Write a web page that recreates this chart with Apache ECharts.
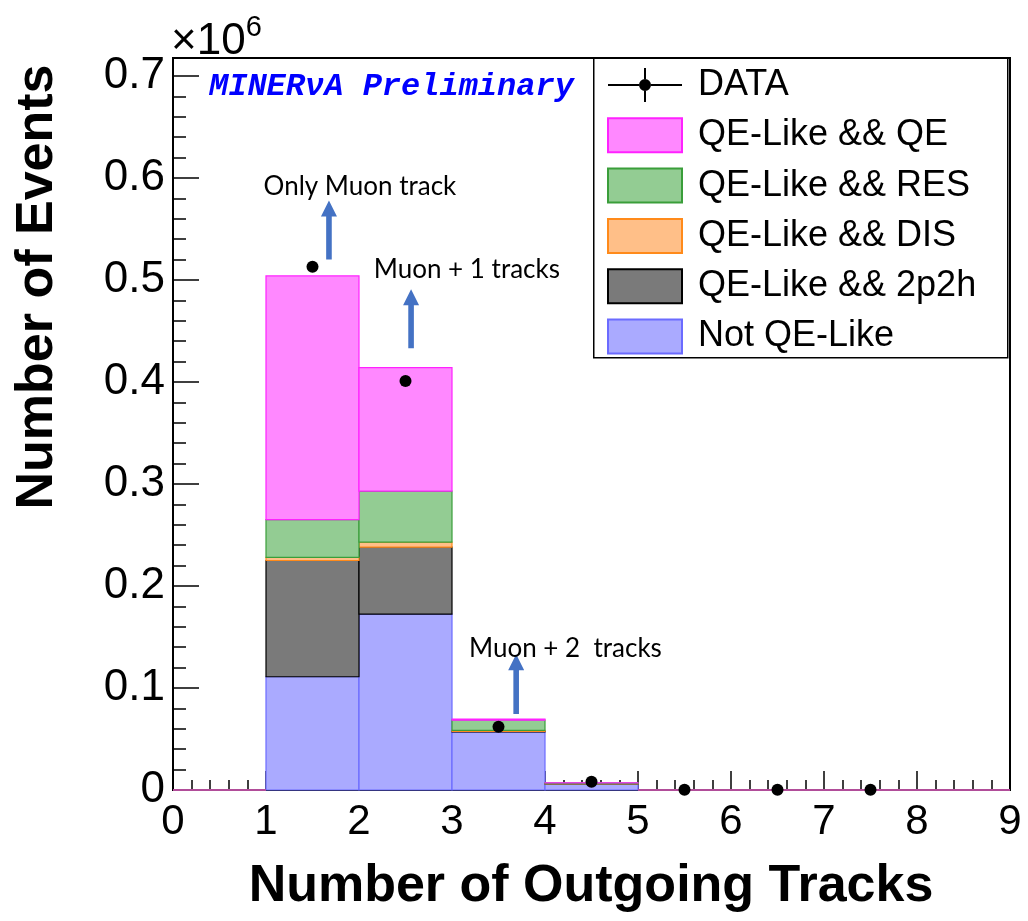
<!DOCTYPE html>
<html>
<head>
<meta charset="utf-8">
<script src="https://cdn.jsdelivr.net/npm/echarts@6/dist/echarts.min.js"></script>
<style>html,body{margin:0;padding:0;background:#fff;}#c{width:1028px;height:921px;}</style>
</head>
<body>
<div id="c"></div>
<script>
// ---- data (units of 10^6 events) ----
const binEdges = [0, 1, 2, 3, 4, 5, 6, 7, 8, 9];
const notQELike = [0, 0.111, 0.1725, 0.057, 0.0059, 0, 0, 0, 0];
const qe2p2h    = [0, 0.114, 0.0655, 0.0005, 0.0002, 0, 0, 0, 0];
const qeDIS     = [0, 0.003, 0.005, 0.001, 0.0001, 0, 0, 0, 0];
const qeRES     = [0, 0.037, 0.050, 0.0100, 0.0007, 0, 0, 0, 0];
const qeQE      = [0, 0.239, 0.121, 0.0011, 0.0001, 0, 0, 0, 0];
const dataX = [1.5, 2.5, 3.5, 4.5, 5.5, 6.5, 7.5];
const dataY = [0.513, 0.401, 0.062, 0.008, 0.0002, 0.0002, 0.0002];
const xTicks = [0, 1, 2, 3, 4, 5, 6, 7, 8, 9];
const annotTexts = ['Only Muon track', 'Muon + 1 tracks', 'Muon + 2  tracks'];
const annotTextPos = [[2.01, 0.592], [3.16, 0.51], [4.22, 0.139]];
const arrowPos = [[1.677, 0.52, 0.578], [2.56, 0.433, 0.491], [3.69, 0.0745, 0.133]];

const comps = [
  {name: 'Not QE-Like', vals: notQELike, fill: '#aaaaff', stroke: '#6b6bff'},
  {name: 'QE-Like && 2p2h', vals: qe2p2h, fill: '#7a7a7a', stroke: '#000000'},
  {name: 'QE-Like && DIS', vals: qeDIS, fill: '#ffbf88', stroke: '#ff8a1a'},
  {name: 'QE-Like && RES', vals: qeRES, fill: '#93cc93', stroke: '#3a9e3a'},
  {name: 'QE-Like && QE', vals: qeQE, fill: '#ff88ff', stroke: '#ff22ff'}
];

const cum = new Array(binEdges.length - 1).fill(0);
const series = [];
comps.forEach(c => {
  const d = [];
  for (let i = 0; i < binEdges.length - 1; i++) {
    const lo = cum[i], hi = cum[i] + c.vals[i];
    d.push([binEdges[i], binEdges[i + 1], lo, hi]);
    cum[i] = hi;
  }
  series.push({
    name: c.name, type: 'custom', data: d, z: 2,
    itemStyle: {color: c.fill, borderColor: c.stroke, borderWidth: 1.2},
    renderItem: function (params, api) {
      const p0 = api.coord([api.value(0), api.value(3)]);
      const p1 = api.coord([api.value(1), api.value(2)]);
      return {
        type: 'rect',
        shape: {x: p0[0], y: p0[1], width: p1[0] - p0[0], height: p1[1] - p0[1]},
        style: {fill: c.fill, stroke: c.stroke, lineWidth: 1.2}
      };
    }
  });
});

series.push({
  name: 'DATA', type: 'scatter', z: 5,
  data: dataX.map((x, i) => [x, dataY[i]]),
  symbol: 'circle', symbolSize: 12,
  itemStyle: {color: '#000', opacity: 1}
});

series.push({
  name: 'arrows', type: 'custom', z: 6, silent: true,
  data: arrowPos,
  renderItem: function (params, api) {
    const b = api.coord([api.value(0), api.value(1)]);
    const t = api.coord([api.value(0), api.value(2)]);
    const x = b[0], hw = 2.8, hh = 8, hl = 16;
    return {
      type: 'polygon',
      shape: {points: [[x - hw, b[1]], [x + hw, b[1]], [x + hw, t[1] + hl], [x + hh, t[1] + hl], [x, t[1]], [x - hh, t[1] + hl], [x - hw, t[1] + hl]]},
      style: {fill: '#4472c4'}
    };
  }
});

series.push({
  name: 'notes', type: 'custom', z: 6, silent: true,
  data: annotTextPos.map((p, i) => [p[0], p[1], i]),
  renderItem: function (params, api) {
    const p = api.coord([api.value(0), api.value(1)]);
    return {
      type: 'text',
      x: p[0], y: p[1],
      style: {text: annotTexts[api.value(2)], fill: '#000', font: '26px Lato', align: 'center', verticalAlign: 'middle'}
    };
  }
});

const chart = echarts.init(document.getElementById('c'), null, {renderer: 'canvas'});
const dataIcon = 'path://M0 16 L31 16 L31 18 L0 18 Z M43 16 L74 16 L74 18 L43 18 Z M36 0 L38 0 L38 11 L36 11 Z M36 23 L38 23 L38 34 L36 34 Z M31 17 A6 6 0 1 1 43 17 A6 6 0 1 1 31 17 Z';

chart.setOption({
  animation: false,
  backgroundColor: '#fff',
  grid: {left: 173, right: 18, top: 58, bottom: 131, show: true, borderColor: '#000', borderWidth: 2, backgroundColor: 'transparent'},
  xAxis: {
    type: 'value', min: 0, max: 9, interval: 1,
    axisLine: {show: true, lineStyle: {color: '#000', width: 2}},
    axisTick: {show: true, inside: true, length: 19, lineStyle: {color: '#000', width: 1.5}},
    minorTick: {show: true, splitNumber: 5, length: 10, lineStyle: {color: '#000', width: 1.5}},
    splitLine: {show: false},
    axisLabel: {color: '#000', fontSize: 42, fontFamily: 'Liberation Sans', margin: 11,
      formatter: v => xTicks.indexOf(v) >= 0 ? String(v) : ''}
  },
  yAxis: {
    type: 'value', min: 0, max: 0.7176, interval: 0.1,
    axisLine: {show: true, lineStyle: {color: '#000', width: 2}},
    axisTick: {show: true, inside: true, length: 26, lineStyle: {color: '#000', width: 1.5}},
    minorTick: {show: true, splitNumber: 5, length: 13, lineStyle: {color: '#000', width: 1.5}},
    splitLine: {show: false},
    axisLabel: {color: '#000', fontSize: 44, fontFamily: 'Liberation Sans', margin: 8, showMaxLabel: false,
      formatter: v => v === 0 ? '0' : v.toFixed(1)}
  },
  legend: {
    orient: 'vertical', left: 593, top: 57, padding: [10, 10, 8, 14],
    itemWidth: 74, itemHeight: 34, itemGap: 14.3,
    textStyle: {fontSize: 36, lineHeight: 34, fontFamily: 'Liberation Sans', color: '#000', padding: [0, 0, 0, 11]},
    data: [
      {name: 'DATA', icon: dataIcon, itemStyle: {color: '#000', borderWidth: 0, opacity: 1}},
      {name: 'QE-Like && QE', icon: 'rect'},
      {name: 'QE-Like && RES', icon: 'rect'},
      {name: 'QE-Like && DIS', icon: 'rect'},
      {name: 'QE-Like && 2p2h', icon: 'rect'},
      {name: 'Not QE-Like', icon: 'rect'}
    ]
  },
  graphic: [
    {type: 'rect', left: 593, top: 57, z: -1, shape: {width: 414, height: 300},
      style: {fill: '#fff', stroke: '#000', lineWidth: 1.5}},
    {type: 'text', left: 209, top: 71, z: 10,
      style: {text: 'MINERνA Preliminary', fill: '#0000ff', font: 'italic bold 32px "Liberation Mono"'}},
    {type: 'text', left: 171, top: 13,
      style: {text: '{a|×10}{b|6}', rich: {a: {fontSize: 44, fontFamily: 'Liberation Sans', fill: '#000', verticalAlign: 'bottom'}, b: {fontSize: 29, fontFamily: 'Liberation Sans', fill: '#000', verticalAlign: 'top', padding: [0, 0, 22, 0]}}}},
    {type: 'text', x: 591, y: 887,
      style: {text: 'Number of Outgoing Tracks', fill: '#000', font: 'bold 52px "Liberation Sans"', align: 'center', verticalAlign: 'middle'}},
    {type: 'text', x: 38, y: 287, rotation: Math.PI / 2,
      style: {text: 'Number of Events', fill: '#000', font: 'bold 52px "Liberation Sans"', align: 'center', verticalAlign: 'middle'}}
  ],
  series: series
});
</script>
</body>
</html>
